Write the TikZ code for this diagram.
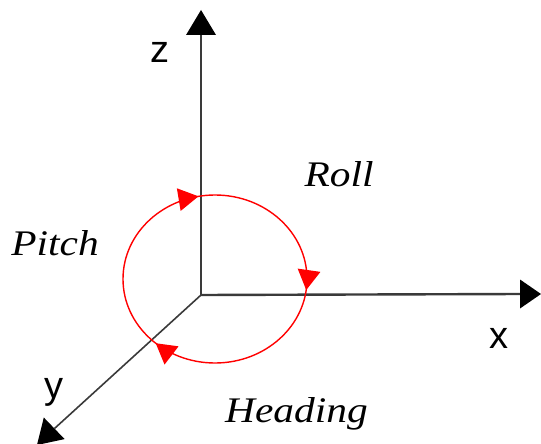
\documentclass[tikz,border=0pt]{standalone}
\usepackage{fontspec}
\usetikzlibrary{decorations.markings}
\newfontfamily\labserif{Liberation Serif}
\newfontfamily\labsans{Liberation Sans}
\definecolor{axisgray}{HTML}{3A3A3A}
\definecolor{rotred}{HTML}{FF0000}
\newcommand{\redtip}{\fill[rotred] (0pt,0pt) -- (-20pt,11.5pt) -- (-20pt,-11.5pt) -- cycle;}
\begin{document}
\begin{tikzpicture}[x=1pt,y=-1pt,
  axisline/.style={draw=axisgray,line width=2.4pt},
  yaxisline/.style={draw=axisgray,line width=1.6pt},
  axtip/.style={fill=black},
  axlabel/.style={font=\labsans\fontsize{38}{40}\selectfont,inner sep=0pt},
  rotlabel/.style={font=\labserif\itshape\fontsize{36}{40}\selectfont,inner sep=0pt,anchor=base},
  rotpath/.style={draw=rotred,line width=1.4pt,postaction={decorate},
    decoration={markings,
      mark=at position 0.02 with {\redtip},
      mark=at position 0.365 with {\redtip},
      mark=at position 0.72 with {\redtip}}}
  ]
\useasboundingbox (0,0) rectangle (541,444);
\coordinate (O) at (201,295);
% z axis
\coordinate (Zt) at (201,10);
\coordinate (Zb) at (201,34);
\coordinate (Zl) at (186,35);
\coordinate (Zr) at (216,35);
% x axis
\coordinate (Xt) at (541,294);
\coordinate (Xb) at (521,294);
\coordinate (Xu) at (520,279.5);
\coordinate (Xd) at (520,308.5);
% y axis
\coordinate (Yt) at (37,445);
\coordinate (Yb) at (54.5,428.5);
\coordinate (Y1) at (64.6,439.1);
\coordinate (Y2) at (43.8,417.5);
\coordinate (C) at (215,279);
\draw[axisline] (O) -- (Zb);
\draw[axisline] (O) -- (Xb);
\draw[yaxisline] (O) -- (Yb);
\fill[axtip] (Zt) -- (Zl) -- (Zr) -- cycle;
\fill[axtip] (Xt) -- (Xu) -- (Xd) -- cycle;
\fill[axtip] (Yt) -- (Y1) -- (Y2) -- cycle;
\draw[rotpath] (C) ellipse [x radius=92, y radius=84];
\node[axlabel] (zl) at (159.5,52.5) {z};
\node[axlabel] (xl) at (499,338.5) {x};
\node[axlabel] (yl) at (54,392.5) {y};
\node[rotlabel] (roll) at (339,186) {\scalebox{1.15}[1]{Roll}};
\node[rotlabel] (pitch) at (55,255) {\scalebox{1.15}[1]{Pitch}};
\node[rotlabel] (head) at (296.5,422) {\scalebox{1.15}[1]{Heading}};
\end{tikzpicture}
\end{document}
